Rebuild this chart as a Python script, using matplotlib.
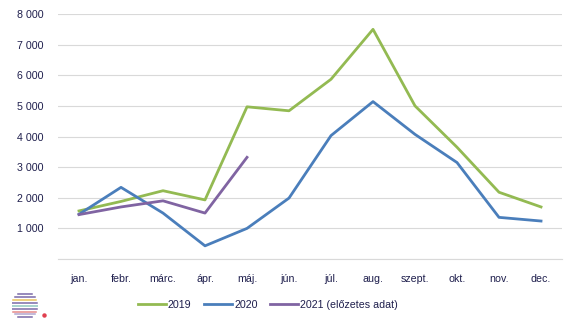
import matplotlib.pyplot as plt
import numpy as np

plt.rcParams['font.family'] = ['Liberation Sans', 'DejaVu Sans']

months = ['jan.', 'febr.', 'márc.', 'ápr.', 'máj.', 'jún.', 'júl.',
          'aug.', 'szept.', 'okt.', 'nov.', 'dec.']
v2019 = [1570, 1880, 2230, 1930, 4970, 4840, 5870, 7500, 5000, 3650, 2180, 1700]
v2020 = [1460, 2340, 1500, 430, 1000, 1990, 4030, 5140, 4070, 3150, 1360, 1240]
v2021 = [1450, 1700, 1900, 1500, 3320]

text_col = '#1f1f4d'
fig = plt.figure(figsize=(5.8, 3.26), dpi=100)
ax = fig.add_axes([0.1, 0.2055, 0.869, 0.7515])

x = np.arange(len(months))
ax.plot(x, v2019, color='#93ba52', lw=2, label='2019')
ax.plot(x, v2020, color='#4a7ebb', lw=2, label='2020')
ax.plot(x[:len(v2021)], v2021, color='#8064a2', lw=2, label='2021 (előzetes adat)')

ax.set_xlim(-0.5, 11.5)
ax.set_ylim(0, 8000)
ax.set_xticks(x)
ax.set_xticklabels(months)
ax.set_yticks(range(0, 8001, 1000))
ax.set_yticklabels([''] + [f'{v:,}'.replace(',', ' ') for v in range(1000, 8001, 1000)])
ax.tick_params(length=0, labelsize=7.7, colors=text_col)
ax.tick_params(axis='y', pad=10.5)
ax.tick_params(axis='x', pad=11)
ax.grid(axis='y', color='#d9d9d9', lw=0.8)
ax.set_axisbelow(True)
for s in ['top', 'right', 'left']:
    ax.spines[s].set_visible(False)
ax.spines['bottom'].set_color('#d9d9d9')

fig.legend(loc='center', bbox_to_anchor=(0.462, 0.064), ncol=3, frameon=False,
           fontsize=7.7, handlelength=2.6, handletextpad=0.2, columnspacing=1.2,
           labelcolor=text_col)

# small striped logo in the lower left corner
logo = fig.add_axes([0.02, 0.02, 0.045, 0.085])
logo.set_xlim(-1, 1)
logo.set_ylim(-1, 1)
logo.axis('off')
stripe_cols = ['#7b6aa8', '#7b6aa8', '#e9c45a', '#7b6aa8', '#8fc7c0', '#7b6aa8',
               '#e58a8a', '#b3a6d0', '#7b6aa8']
for i, yy in enumerate(np.linspace(0.85, -0.85, len(stripe_cols))):
    w = np.sqrt(max(1 - yy ** 2, 0.05))
    logo.plot([-w, w], [yy, yy], color=stripe_cols[i], lw=1.1)
logo.plot([1.45], [-0.65], 'o', color='#e04050', ms=2.2, clip_on=False)

fig.savefig('out.png', dpi=100)
